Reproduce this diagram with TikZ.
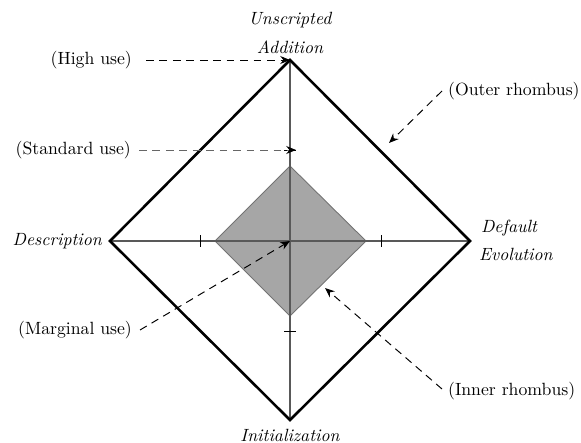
\documentclass[tikz,border=0pt]{standalone}
\usetikzlibrary{arrows.meta}
\begin{document}
\begin{tikzpicture}[x=0.565pt,y=-0.565pt,
  axis/.style={draw=black!65,line width=0.75pt},
  outer/.style={draw=black,line width=1.45pt,line join=miter},
  inner/.style={draw=black!55,fill=black!35,line width=0.5pt},
  tick/.style={draw=black,line width=0.55pt},
  pointer/.style={draw=black,line width=0.55pt,dash pattern=on 4.4pt off 3.2pt,-{Stealth[length=5.5pt,width=4.5pt,black]}},
  greypointer/.style={pointer,draw=black!60},
  dim/.style={font=\itshape,inner sep=1pt},
  callout/.style={inner sep=1pt}]
\useasboundingbox (0,0) rectangle (581,443);
% coordinates
\coordinate (O) at (290,241);
\coordinate (T) at (290,60);
\coordinate (B) at (290,420);
\coordinate (L) at (110,241);
\coordinate (R) at (470,241);
\coordinate (iT) at (290,166);
\coordinate (iB) at (290,316);
\coordinate (iL) at (215,241);
\coordinate (iR) at (366,241);
% inner rhombus
\path[inner] (iT) -- (iR) -- (iB) -- (iL) -- cycle;
% axes
\draw[axis] (T) -- (B);
\draw[axis] (L) -- (R);
% ticks
\coordinate (tT) at (290,150);
\coordinate (tB) at (290,331);
\coordinate (tL) at (200,241);
\coordinate (tR) at (381,241);
\coordinate (tTend) at (296,150);
\draw[tick] (tT) ++(-6,0) -- ++(12,0);
\draw[tick] (tB) ++(-6,0) -- ++(12,0);
\draw[tick] (tL) ++(0,-6) -- ++(0,12);
\draw[tick] (tR) ++(0,-6) -- ++(0,12);
% outer rhombus
\draw[outer] (T) -- (R) -- (B) -- (L) -- cycle;
% axis labels
\node[dim] (unscr) at (290,20) {Unscripted};
\node[dim] (addit) at (290,47) {Addition};
\node[dim,anchor=east] (descr) at (104,241) {Description};
\node[dim,anchor=west] (defau) at (479,228) {Default};
\node[dim,anchor=west] (evol) at (477,254) {Evolution};
\node[dim] (init) at (290,435) {Initialization};
% callouts
\node[callout,anchor=east] (high) at (134,60) {(High use)};
\node[callout,anchor=east] (std) at (133,150) {(Standard use)};
\node[callout,anchor=east] (marg) at (134,330) {(Marginal use)};
\node[callout,anchor=west] (outr) at (446,91) {(Outer rhombus)};
\node[callout,anchor=west] (innr) at (446,391) {(Inner rhombus)};
\coordinate (pOut) at (389,143);
\coordinate (pIn) at (325,288);
\draw[pointer] (high.east) ++(12,0) -- (T);
\draw[greypointer] (std.east) ++(6,0) -- (tTend);
\draw[pointer] (marg.east) ++(6,0) -- (O);
\draw[pointer] (outr.west) ++(-4,0) -- (pOut);
\draw[pointer] (innr.west) ++(-4,-2) -- (pIn);
\end{tikzpicture}
\end{document}
